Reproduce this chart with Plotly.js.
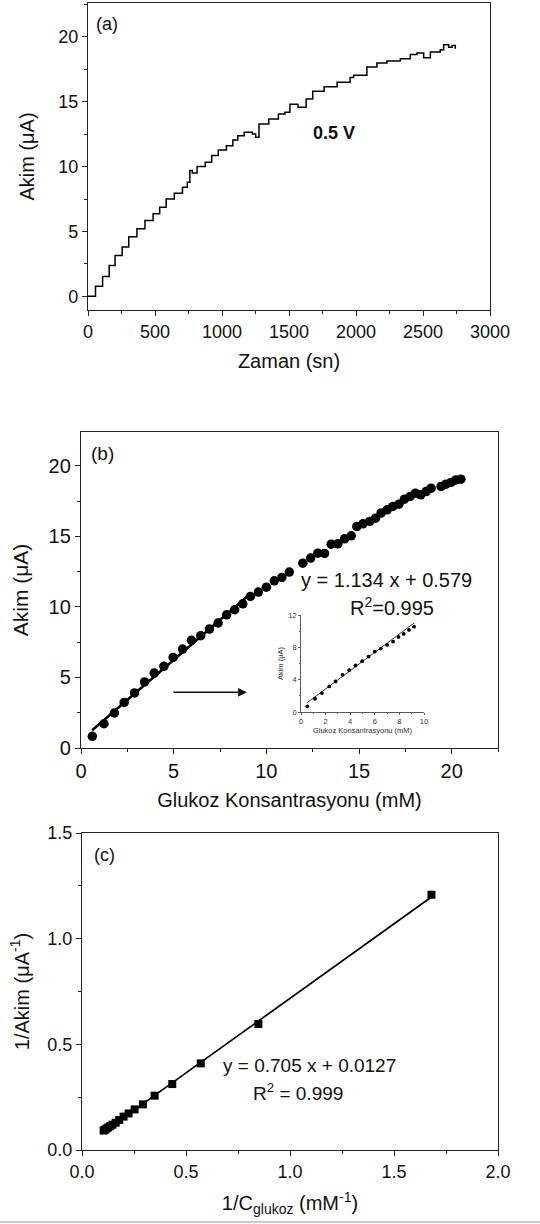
<!DOCTYPE html>
<html>
<head>
<meta charset="utf-8">
<script src="https://cdn.plot.ly/plotly-3.0.1.min.js"></script>
<style>html,body{margin:0;padding:0;background:#fff;}#chart{width:540px;height:1224px;}</style>
</head>
<body>
<div id="chart"></div>
<script>
// ---------- Panel (a): current vs time (0.5 V) ----------
const timeA = [0, 56, 109, 158, 202, 255, 304, 365, 425, 486, 535, 583, 644, 705, 741, 760, 778, 814, 875, 923, 972, 1033, 1081, 1118, 1166, 1227, 1251, 1276, 1349, 1421, 1470, 1507, 1567, 1628, 1677, 1762, 1859, 1956, 1982, 2081, 2156, 2231, 2331, 2405, 2455, 2505, 2555, 2629, 2654, 2692, 2717, 2741];
const currentA = [0, 0.77, 1.54, 2.38, 3.15, 3.8, 4.6, 5.2, 5.85, 6.36, 6.87, 7.5, 7.95, 8.4, 8.8, 9.7, 9.5, 10.0, 10.33, 10.85, 11.28, 11.6, 12.05, 12.38, 12.64, 12.5, 12.26, 13.28, 13.67, 14.05, 14.18, 14.8, 14.56, 15.2, 15.8, 16.15, 16.5, 16.87, 17.03, 17.67, 17.97, 18.13, 18.3, 18.64, 18.74, 18.38, 18.82, 19.0, 19.38, 19.2, 19.33, 19.08];

// ---------- Panel (b): current vs glucose concentration ----------
const concB = [0.61, 1.24, 1.80, 2.33, 2.89, 3.43, 3.95, 4.47, 4.97, 5.48, 5.96, 6.46, 6.93, 7.40, 7.86, 8.29, 8.73, 9.14, 9.57, 10.0, 10.43, 10.84, 11.24, 11.97, 12.39, 12.78, 13.14, 13.5, 13.86, 14.22, 14.58, 14.88, 15.21, 15.57, 15.89, 16.19, 16.52, 16.82, 17.15, 17.45, 17.76, 18.04, 18.33, 18.62, 18.89, 19.43, 19.69, 19.96, 20.23, 20.5];
const currentB = [0.83, 1.72, 2.48, 3.23, 3.9, 4.68, 5.31, 5.79, 6.42, 7.01, 7.63, 7.96, 8.43, 8.86, 9.44, 9.80, 10.22, 10.74, 11.05, 11.4, 11.85, 12.09, 12.47, 13.1, 13.46, 13.81, 13.79, 14.45, 14.47, 14.83, 15.04, 15.7, 15.89, 16.06, 16.29, 16.65, 16.88, 17.12, 17.28, 17.64, 17.83, 18.06, 17.95, 18.18, 18.42, 18.54, 18.70, 18.82, 19.0, 19.05];
const fitB_x = [0.6, 9.2];
const fitB_y = [1.26, 11.01];

// inset of (b)
const insetConc = [0.51, 1.14, 1.70, 2.30, 2.81, 3.38, 3.92, 4.43, 4.97, 5.49, 6.00, 6.49, 7.0, 7.49, 7.92, 8.35, 8.78, 9.19];
const insetCur = [0.70, 1.64, 2.34, 3.16, 3.78, 4.60, 5.18, 5.75, 6.29, 6.86, 7.48, 7.85, 8.30, 8.71, 9.29, 9.66, 10.15, 10.56];
const fitInset_x = [0.5, 9.2];
const fitInset_y = [1.15, 11.01];

// ---------- Panel (c): Lineweaver-Burk ----------
const invConcC = [1.68, 0.848, 0.571, 0.434, 0.349, 0.293, 0.253, 0.224, 0.200, 0.179, 0.162, 0.147, 0.136, 0.126, 0.117, 0.110, 0.104];
const invCurC = [1.208, 0.596, 0.410, 0.312, 0.257, 0.216, 0.192, 0.173, 0.158, 0.142, 0.129, 0.120, 0.113, 0.107, 0.101, 0.096, 0.092];
const fitC_x = [0.096, 1.68];
const fitC_y = [0.080, 1.197];

// ---------- labels ----------
const xTitleA = 'Zaman (sn)';
const yTitleA = 'Akim (μA)';
const xTitleB = 'Glukoz Konsantrasyonu (mM)';
const yTitleB = 'Akim (μA)';
const xTitleC = '1/C<sub>glukoz</sub> (mM<sup>-1</sup>)';
const yTitleC = '1/Akim (μA<sup>-1</sup>)';
const eqB = 'y = 1.134 x + 0.579';
const r2B = 'R<sup>2</sup>=0.995';
const eqC = 'y = 0.705 x + 0.0127';
const r2C = 'R<sup>2</sup> = 0.999';

const W = 540, H = 1224;
const px = v => v / W;
const py = v => 1 - v / H;
const FONT = 'Arial, "Liberation Sans", sans-serif';

const traces = [
  {x: timeA, y: currentA, xaxis: 'x', yaxis: 'y', mode: 'lines', line: {color: '#000', width: 1.5, shape: 'hv'}},
  {x: concB, y: currentB, xaxis: 'x2', yaxis: 'y2', mode: 'markers', marker: {color: '#000', size: 9.5, symbol: 'circle'}},
  {x: fitB_x, y: fitB_y, xaxis: 'x2', yaxis: 'y2', mode: 'lines', line: {color: '#000', width: 2.6}},
  {x: insetConc, y: insetCur, xaxis: 'x4', yaxis: 'y4', mode: 'markers', marker: {color: '#000', size: 3.8}},
  {x: fitInset_x, y: fitInset_y, xaxis: 'x4', yaxis: 'y4', mode: 'lines', line: {color: '#000', width: 0.8}},
  {x: fitC_x, y: fitC_y, xaxis: 'x3', yaxis: 'y3', mode: 'lines', line: {color: '#000', width: 1.7}},
  {x: invConcC, y: invCurC, xaxis: 'x3', yaxis: 'y3', mode: 'markers', marker: {color: '#000', size: 8, symbol: 'square'}}
];

function mainAxis(extra) {
  return Object.assign({
    showgrid: false, zeroline: false, showline: true, linecolor: '#222', linewidth: 1.2,
    mirror: true, ticks: 'outside', ticklen: 5, tickwidth: 1, tickcolor: '#222',
    tickfont: {family: FONT, size: 18, color: '#111'},
    automargin: false
  }, extra);
}

function label(x, y, text, size, extra) {
  return Object.assign({xref: 'paper', yref: 'paper', x: px(x), y: py(y), xanchor: 'center', yanchor: 'middle',
    text: text, showarrow: false, font: {family: FONT, size: size, color: '#111'}}, extra || {});
}

const layout = {
  width: W, height: H,
  margin: {l: 0, r: 0, t: 0, b: 0},
  paper_bgcolor: '#fff', plot_bgcolor: 'rgba(0,0,0,0)',
  showlegend: false,
  font: {family: FONT, color: '#111'},
  xaxis: mainAxis({domain: [px(88), px(490)], anchor: 'y', range: [0, 3000], dtick: 500,
    minor: {dtick: 250, ticks: 'outside', ticklen: 3, tickcolor: '#222'},
    title: {text: xTitleA, font: {family: FONT, size: 20}, standoff: 13}}),
  yaxis: mainAxis({domain: [py(310), py(3)], anchor: 'x', range: [-1.05, 22.6], dtick: 5,
    minor: {dtick: 2.5, ticks: 'outside', ticklen: 3, tickcolor: '#222'},
    title: {text: yTitleA, font: {family: FONT, size: 20}, standoff: 18}}),
  xaxis2: mainAxis({domain: [px(81), px(498)], anchor: 'y2', range: [0, 22.5], dtick: 5,
    tickfont: {family: FONT, size: 20, color: '#111'},
    minor: {dtick: 2.5, ticks: 'outside', ticklen: 3, tickcolor: '#222'},
    title: {text: xTitleB, font: {family: FONT, size: 20}, standoff: 11}}),
  yaxis2: mainAxis({domain: [py(748), py(432)], anchor: 'x2', range: [0, 22.4], dtick: 5,
    tickfont: {family: FONT, size: 20, color: '#111'},
    minor: {dtick: 2.5, ticks: 'outside', ticklen: 3, tickcolor: '#222'},
    title: {text: yTitleB, font: {family: FONT, size: 21}, standoff: 14}}),
  xaxis3: mainAxis({domain: [px(82), px(498)], anchor: 'y3', range: [0, 2.0], dtick: 0.5, tickformat: '.1f',
    tickfont: {family: FONT, size: 18, color: '#111'},
    minor: {dtick: 0.25, ticks: 'outside', ticklen: 3, tickcolor: '#222'},
    title: {text: xTitleC, font: {family: FONT, size: 20}, standoff: 15}}),
  yaxis3: mainAxis({domain: [py(1150), py(833)], anchor: 'x3', range: [0, 1.5], dtick: 0.5, tickformat: '.1f',
    tickfont: {family: FONT, size: 18, color: '#111'},
    minor: {dtick: 0.25, ticks: 'outside', ticklen: 3, tickcolor: '#222'},
    title: {text: yTitleC, font: {family: FONT, size: 20}, standoff: 12}}),
  xaxis4: {domain: [px(301), px(424)], anchor: 'y4', range: [0, 10], dtick: 2,
    showgrid: false, zeroline: false, showline: true, linecolor: '#333', linewidth: 0.8, mirror: false,
    ticks: 'outside', ticklen: 2, tickwidth: 0.8, tickcolor: '#333',
    tickfont: {family: FONT, size: 7.5, color: '#333'},
    minor: {dtick: 1, ticks: 'outside', ticklen: 1.5, tickcolor: '#333'},
    title: {text: xTitleB, font: {family: FONT, size: 7.5, color: '#333'}, standoff: 2}, automargin: false},
  yaxis4: {domain: [py(712), py(615)], anchor: 'x4', range: [0, 12], dtick: 4,
    showgrid: false, zeroline: false, showline: true, linecolor: '#333', linewidth: 0.8, mirror: false,
    ticks: 'outside', ticklen: 2, tickwidth: 0.8, tickcolor: '#333',
    tickfont: {family: FONT, size: 7.5, color: '#333'},
    minor: {dtick: 2, ticks: 'outside', ticklen: 1.5, tickcolor: '#333'},
    title: {text: yTitleB, font: {family: FONT, size: 7.5, color: '#333'}, standoff: 3}, automargin: false},
  annotations: [
    label(107, 24, '(a)', 18),
    label(334, 133, '<b>0.5 V</b>', 18),
    label(102, 453, '(b)', 19),
    label(386, 580, eqB, 20),
    label(392, 606, r2B, 20),
    {xref: 'x2', yref: 'y2', axref: 'x2', ayref: 'y2', x: 8.95, y: 3.95, ax: 4.9, ay: 3.95, text: '', showarrow: true,
      arrowhead: 2, arrowsize: 1.1, arrowwidth: 1.6, arrowcolor: '#111'},
    label(104, 855, '(c)', 18),
    label(309, 1065, eqC, 19),
    label(298, 1092, r2C, 19)
  ],
  shapes: [
    {type: 'line', xref: 'paper', yref: 'paper', x0: 0, x1: 1, y0: py(1222), y1: py(1222), line: {color: '#999', width: 1}}
  ]
};

Plotly.newPlot('chart', traces, layout, {displayModeBar: false, staticPlot: true});
</script>
</body>
</html>
